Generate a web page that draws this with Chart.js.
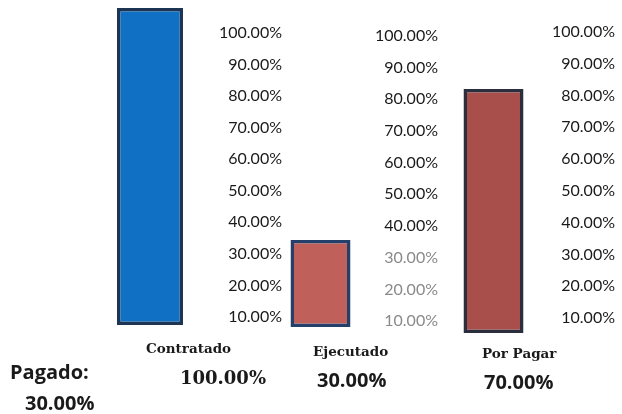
<!DOCTYPE html>
<html>
<head>
<meta charset="utf-8">
<script src="https://cdn.jsdelivr.net/npm/chart.js@4.4.1/dist/chart.umd.min.js"></script>
<style>
  html, body { margin:0; padding:0; background:#fff; }
  #wrap { position:relative; width:622px; height:414px; overflow:hidden; background:#fff; }
  .box { position:absolute; left:0; top:0; width:622px; height:414px; }
  .txt { position:absolute; white-space:nowrap; color:#1a1a1a; }
  .cat { font-family:"DejaVu Serif", serif; font-weight:bold; font-size:13.5px; }
  .val { font-family:"DejaVu Serif", serif; font-weight:bold; font-size:18px; }
  .sval { font-family:"Open Sans", sans-serif; font-weight:bold; font-size:20px; }
</style>
</head>
<body>
<div id="wrap">
  <div class="box"><canvas id="c0"></canvas></div>
  <div class="box"><canvas id="c1"></canvas></div>
  <div class="box"><canvas id="c2"></canvas></div>
  <div class="txt cat" id="cat0" style="left:146px;top:340px;"></div>
  <div class="txt cat" id="cat1" style="left:313px;top:343px;"></div>
  <div class="txt cat" id="cat2" style="left:482px;top:345px;"></div>
  <div class="txt val" id="val0" style="left:180px;top:367px;"></div>
  <div class="txt sval" id="val1" style="left:317px;top:366px;"></div>
  <div class="txt sval" id="val2" style="left:484px;top:368px;"></div>
  <div class="txt sval" id="pagL" style="left:10px;top:358px;"></div>
  <div class="txt sval" id="pagV" style="left:25px;top:389px;"></div>
</div>
<script>
const categories = ['Contratado', 'Ejecutado', 'Por Pagar'];
const values = [100, 30, 70];
const tickValues = [10, 20, 30, 40, 50, 60, 70, 80, 90, 100];
const pagadoLabel = 'Pagado:';
const pagadoValue = 30;

const fmt = v => v.toFixed(2) + '%';

const fills = ['#0f70c4', '#c0605a', '#a94f4b'];
const borders = ['#1d3552', '#24406a', '#2b2f3d'];

// per-chart layout geometry (pixels, not data)
const geo = [
  { left: 86,  right: 214, barW: 66, top: 8, bottom: 325, axisW: 68, yMax: 100,  y2Min: 7.47, y2Max: 107.9,  faint: 0 },
  { left: 271, right: 370, barW: 60, top: 8, bottom: 327, axisW: 68, yMax: 110,  y2Min: 8.11, y2Max: 108.84, faint: 30 },
  { left: 440, right: 547, barW: 60, top: 8, bottom: 333, axisW: 68, yMax: 93.2, y2Min: 5.28, y2Max: 107.55, faint: 0 }
];

categories.forEach((cat, i) => {
  const g = geo[i];
  new Chart(document.getElementById('c' + i), {
    type: 'bar',
    data: {
      labels: [cat],
      datasets: [{
        data: [values[i]],
        backgroundColor: fills[i],
        borderColor: borders[i],
        borderWidth: 3.5,
        borderSkipped: false,
        barPercentage: g.barW / (g.right - g.left),
        categoryPercentage: 1,
        yAxisID: 'y'
      }]
    },
    options: {
      responsive: true,
      maintainAspectRatio: false,
      animation: false,
      layout: { padding: { top: g.top, bottom: 414 - g.bottom, left: g.left, right: 622 - g.right - g.axisW } },
      plugins: { legend: { display: false }, tooltip: { enabled: false } },
      scales: {
        x: { display: false },
        y: { display: false, min: 0, max: g.yMax },
        y2: {
          position: 'right',
          min: g.y2Min,
          max: g.y2Max,
          grid: { display: false, drawTicks: false },
          border: { display: false },
          afterBuildTicks: s => { s.ticks = tickValues.map(v => ({ value: v })); },
          afterFit: s => { s.width = g.axisW; s.paddingTop = 0; s.paddingBottom = 0; },
          ticks: {
            padding: 4,
            crossAlign: 'far',
            font: { family: 'Lato', size: 16 },
            color: ctx => (ctx.tick && ctx.tick.value <= g.faint) ? '#8a8a8a' : '#1a1a1a',
            callback: v => fmt(v)
          }
        }
      }
    }
  });
  document.getElementById('cat' + i).textContent = cat;
  document.getElementById('val' + i).textContent = fmt(values[i]);
});
document.getElementById('pagL').textContent = pagadoLabel;
document.getElementById('pagV').textContent = fmt(pagadoValue);
</script>
</body>
</html>
